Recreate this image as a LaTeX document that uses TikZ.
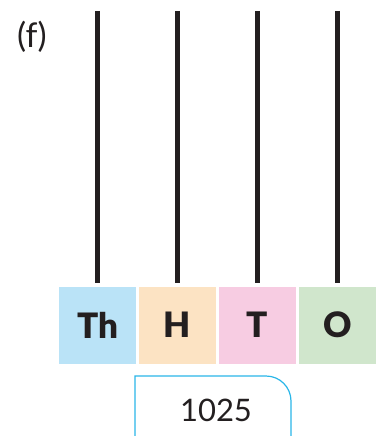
\documentclass[tikz,border=0pt]{standalone}
\usepackage{fontspec}
\setmainfont{Lato}[BoldFont={Lato Black}]
\definecolor{thblue}{HTML}{BAE3F7}
\definecolor{horange}{HTML}{FCE3C3}
\definecolor{tpink}{HTML}{F7CCE2}
\definecolor{ogreen}{HTML}{D0E6CC}
\definecolor{framecyan}{HTML}{29B6E8}
\definecolor{rodblack}{HTML}{231F20}
\begin{document}
\begin{tikzpicture}[x=1pt, y=-1pt,
    colbox/.style={minimum width=77.5pt, minimum height=77pt, inner sep=0pt,
        font=\fontsize{35}{40}\selectfont\bfseries, text=rodblack},
    rod/.style={rodblack, line width=5pt}]
    \useasboundingbox (0,0) rectangle (375,436);

    \node[font=\fontsize{34}{40}\selectfont, text=rodblack] (lbl) at (32,37) {(f)};

    % Columnas del abaco: Th, H, T, O
    \foreach \n/\lab/\col [count=\i from 0] in {th/Th/thblue, h/H/horange, t/T/tpink, o/O/ogreen}{
        \pgfmathsetmacro{\cx}{97.5+80*\i}
        \node[colbox, fill=\col] (\n) at (\cx,325) {\lab};
        \coordinate (\n top) at (\cx,11);
        \draw[rod] (\n top) -- ([yshift=3pt]\n.north);
    }

    % Numero
    \node[font=\fontsize{31}{36}\selectfont, text=rodblack] (num) at (216,410) {1025};
    \draw[framecyan, line width=1.2pt] (135,437) -- (135,376) -- (266,376)
        arc[start angle=-90, end angle=0, radius=25] -- (291,437);
\end{tikzpicture}
\end{document}
